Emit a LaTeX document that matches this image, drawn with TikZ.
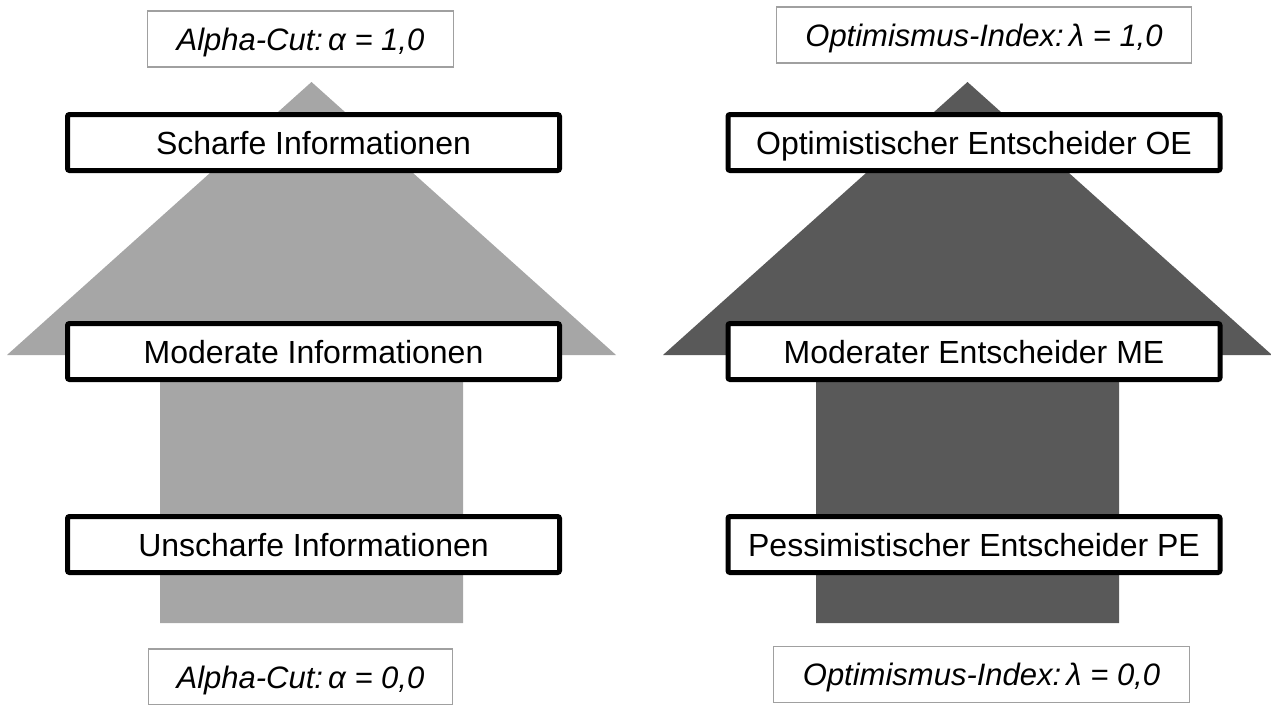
\documentclass[tikz,border=0pt]{standalone}
\usepackage{fontspec}
\setmainfont{Liberation Sans}
\definecolor{lightarrow}{HTML}{A6A6A6}
\definecolor{darkarrow}{HTML}{595959}
\definecolor{labelgray}{HTML}{A0A0A0}
\begin{document}
\begin{tikzpicture}[x=1pt,y=-1pt,
  infobox/.style={draw=black,fill=white,line width=5pt,rounded corners=2pt,
    minimum width=492pt,minimum height=56pt,inner sep=0pt,
    text height=23pt,text depth=0pt,
    font=\fontsize{32}{38}\selectfont},
  labelbox/.style={draw=labelgray,fill=white,line width=1.3pt,
    minimum height=56pt,inner sep=0pt,
    text height=22pt,text depth=0pt,
    font=\fontsize{31}{36}\selectfont\itshape}]
\useasboundingbox (0,0) rectangle (1271,704);
% arrows
\fill[lightarrow] (311.5,82) -- (616,355) -- (463,355) -- (463,623) -- (160,623) -- (160,355) -- (7,355) -- cycle;
\fill[darkarrow] (967.5,82) -- (1272,355) -- (1119,355) -- (1119,623) -- (816,623) -- (816,355) -- (663,355) -- cycle;
% left boxes
\node[infobox] (s1) at (313.5,142.5) {Scharfe Informationen};
\node[infobox] (s2) at (313.5,351.5) {Moderate Informationen};
\node[infobox] (s3) at (313.5,544.5) {Unscharfe Informationen};
% right boxes
\node[infobox] (e1) at (974,142.5) {Optimistischer Entscheider OE};
\node[infobox] (e2) at (974,351.5) {Moderater Entscheider ME};
\node[infobox] (e3) at (974,544.5) {Pessimistischer Entscheider PE};
% labels
\node[labelbox,minimum width=306pt] (la1) at (300.5,39) {Alpha-Cut:\,α = 1,0};
\node[labelbox,minimum width=304pt] (la0) at (300.5,677) {Alpha-Cut:\,α = 0,0};
\node[labelbox,minimum width=415pt] (ll1) at (984,35) {Optimismus-Index:\,λ = 1,0};
\node[labelbox,minimum width=416pt] (ll0) at (981.5,674.5) {Optimismus-Index:\,λ = 0,0};
\end{tikzpicture}
\end{document}
